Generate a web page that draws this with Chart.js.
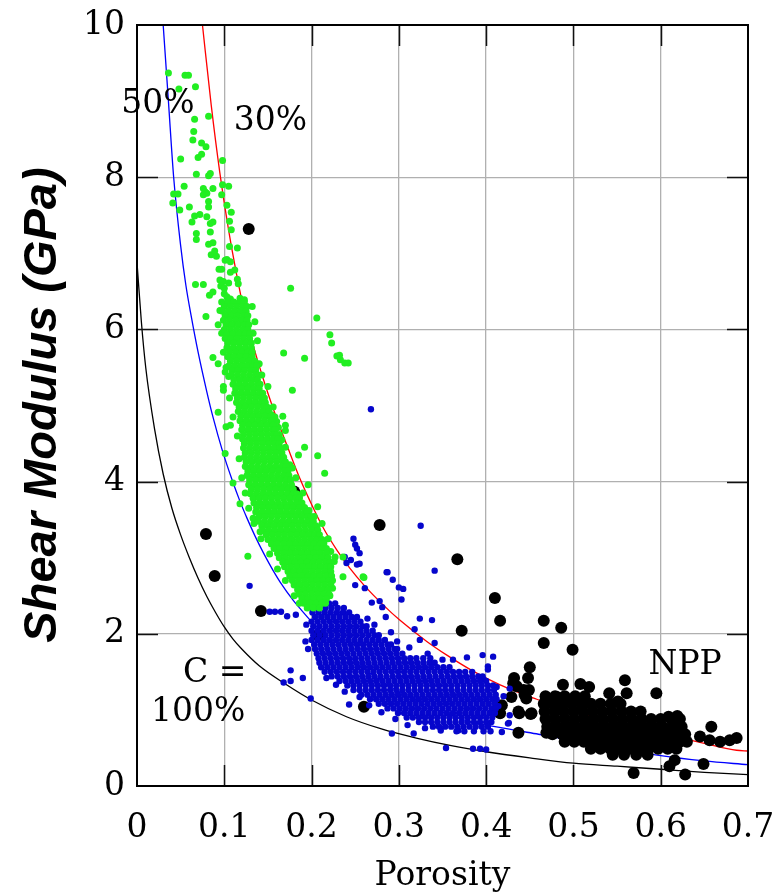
<!DOCTYPE html>
<html>
<head>
<meta charset="utf-8">
<title>Shear modulus vs porosity</title>
<script src="https://cdn.jsdelivr.net/npm/chart.js@4.4.0/dist/chart.umd.min.js"></script>
<style>
  html, body { margin: 0; padding: 0; background: #fff; }
  #modulus { display: block; }
</style>
</head>
<body>
<canvas id="modulus" width="782" height="895"></canvas>
<script>
// axis ticks
const xTicks = [0, 0.1, 0.2, 0.3, 0.4, 0.5, 0.6, 0.7];
const yTicks = [0, 2, 4, 6, 8, 10];

// model curves, cementation C = 100%, 50%, 30%
const curve100X = [0, 0.005, 0.01, 0.02, 0.03, 0.04, 0.05, 0.06, 0.07, 0.08, 0.09, 0.10, 0.11, 0.12, 0.14, 0.17, 0.20, 0.24, 0.28, 0.32, 0.36, 0.40, 0.45, 0.50, 0.55, 0.60, 0.65, 0.70];
const curve100Y = [6.88, 6.1, 5.5, 4.7, 4.1, 3.65, 3.3, 3.0, 2.73, 2.49, 2.28, 2.09, 1.93, 1.80, 1.58, 1.34, 1.13, 0.91, 0.75, 0.63, 0.53, 0.45, 0.37, 0.30, 0.26, 0.22, 0.18, 0.15];
const curve50X = [0.030, 0.036, 0.042, 0.050, 0.056, 0.062, 0.070, 0.080, 0.087, 0.098, 0.109, 0.118, 0.126, 0.135, 0.145, 0.156, 0.164, 0.179, 0.187, 0.200, 0.22, 0.25, 0.28, 0.31, 0.34, 0.38, 0.42, 0.46, 0.50, 0.55, 0.60, 0.65, 0.70];
const curve50Y = [10, 9.0, 8.0, 7.1, 6.58, 6.18, 5.70, 5.18, 4.85, 4.40, 4.02, 3.74, 3.52, 3.29, 3.06, 2.83, 2.68, 2.44, 2.33, 2.16, 1.93, 1.63, 1.38, 1.18, 1.02, 0.85, 0.76, 0.68, 0.60, 0.50, 0.40, 0.33, 0.28];
const curve30X = [0.075, 0.085, 0.095, 0.105, 0.115, 0.122, 0.128, 0.139, 0.150, 0.161, 0.171, 0.187, 0.198, 0.213, 0.229, 0.244, 0.260, 0.282, 0.301, 0.332, 0.355, 0.385, 0.416, 0.458, 0.488, 0.55, 0.60, 0.65, 0.687, 0.70];
const curve30Y = [10, 8.95, 8.05, 7.3, 6.67, 6.28, 6.0, 5.56, 5.16, 4.80, 4.50, 4.03, 3.75, 3.40, 3.10, 2.86, 2.64, 2.38, 2.18, 1.90, 1.72, 1.51, 1.33, 1.14, 1.02, 0.83, 0.69, 0.56, 0.47, 0.46];

// green samples: scattered points [porosity, modulus]
const greenScatter = [
  [.036,9.37],[.055,9.34],[.059,9.34],[.048,9.16],[.067,9.19],[.066,8.76],[.082,8.80],[.065,8.60],[.064,8.49],
  [.074,8.45],[.079,8.40],[.050,8.24],[.070,8.26],[.074,8.30],[.098,8.22],[.068,8.04],[.082,8.02],[.084,8.05],
  [.054,7.88],[.042,7.78],[.047,7.78],[.041,7.66],[.049,7.57],[.060,7.61],[.076,7.85],[.078,7.81],[.080,7.79],
  [.087,7.85],[.076,7.77],[.098,7.90],[.105,7.88],[.097,7.77],[.082,7.68],[.082,7.61],[.103,7.63],[.108,7.54],
  [.066,7.49],[.072,7.51],[.080,7.48],[.063,7.41],[.084,7.39],[.087,7.41],[.106,7.42],[.084,7.28],[.068,7.26],
  [.068,7.18],[.108,7.31],[.082,7.12],[.087,7.14],[.106,7.09],[.115,7.07],[.085,6.98],[.091,6.96],[.089,7.03],
  [.103,6.92],[.107,6.89],[.101,6.91],[.094,6.79],[.097,6.79],[.107,6.75],[.112,6.78],[.095,6.65],[.099,6.63],
  [.105,6.61],[.115,6.66],[.116,6.60],[.096,6.57],[.100,6.54],[.067,6.59],[.076,6.59],[.083,6.45],[.087,6.49],
  [.100,6.47],[.103,6.43],[.107,6.40],[.118,6.41],[.123,6.39],[.176,6.54],[.206,6.15],[.079,6.17],[.093,6.06],
  [.221,5.93],[.223,5.82],[.229,5.65],[.233,5.60],[.238,5.56],[.242,5.56],[.232,5.66],[.168,5.69],[.192,5.62],
  [.178,5.20],[.087,5.63],[.093,5.55],[.101,5.44],[.105,5.38],[.099,5.25],[.099,5.20],[.093,4.91],[.102,4.72],
  [.107,4.74],[.101,4.37],[.110,3.98],[.118,3.71],[.133,3.52],[.141,3.34],[.127,3.02],[.259,2.75],[.236,3.01],
  [.227,3.01],[.207,4.34],[.215,4.11],[.192,4.45],[.185,4.35],[.167,4.86],[.170,4.74],[.170,4.67],[.154,4.88],
  [.160,4.79],[.162,4.71],[.196,3.96],[.207,3.67],[.203,3.54],[.236,2.75],[.260,2.74],[.133,5.95],[.140,5.55],
  [.146,5.10],[.158,4.85],[.166,4.55],[.175,4.22],[.182,4.05],[.190,3.85],[.212,3.45],[.219,3.25],[.226,2.95],
  [.132,6.30],[.135,6.10],[.138,5.85],[.143,5.40],[.150,5.25],[.156,4.98],[.163,4.62],[.170,4.45],[.178,4.18],
  [.186,3.80],[.197,3.62],[.206,3.40],[.214,3.20],[.222,3.08],[.224,2.60],[.221,2.50],[.095,6.25],[.097,5.95],
  [.099,5.70],[.102,5.50],[.106,5.10],[.110,4.85],[.115,4.60],[.117,4.30],[.120,4.05],[.124,3.85],[.128,3.65],
  [.134,3.45],[.142,3.25],[.152,3.05],[.161,2.85],[.170,2.70],[.180,2.50],[.186,2.40]
];
// green samples: dense band, [modulus, porosity, porosity, ...]
const greenRows = [
  [6.36,.097,.104,.111,.118,.123],
  [6.30,.100,.107,.114,.121,.126],
  [6.24,.098,.105,.112,.119,.125],
  [6.18,.101,.108,.115,.122,.127],
  [6.12,.099,.106,.113,.120,.126],
  [6.06,.102,.109,.116,.123,.128],
  [6.00,.100,.107,.114,.121,.127],
  [5.94,.103,.110,.117,.124,.129],
  [5.88,.101,.108,.115,.122,.129],
  [5.82,.104,.111,.118,.125,.131],
  [5.76,.103,.110,.117,.124,.131],
  [5.70,.106,.113,.120,.127,.132],
  [5.64,.104,.111,.118,.125,.132],
  [5.58,.107,.114,.121,.128,.135],
  [5.52,.105,.112,.119,.126,.133,.137],
  [5.46,.109,.116,.123,.130,.136],
  [5.40,.108,.115,.122,.129,.136,.139],
  [5.34,.111,.118,.125,.132,.138],
  [5.28,.110,.117,.124,.131,.138,.141],
  [5.22,.113,.120,.127,.134,.140],
  [5.16,.112,.119,.126,.133,.140,.144],
  [5.10,.115,.122,.129,.136,.143],
  [5.04,.114,.121,.128,.135,.142,.147],
  [4.98,.117,.124,.131,.138,.145,.149],
  [4.92,.116,.123,.130,.137,.144,.151],
  [4.86,.119,.126,.133,.140,.147,.153],
  [4.80,.118,.125,.132,.139,.146,.153,.155],
  [4.74,.121,.128,.135,.142,.149,.156],
  [4.68,.120,.127,.134,.141,.148,.155,.158],
  [4.62,.122,.129,.136,.143,.150,.157,.160],
  [4.56,.121,.128,.135,.142,.149,.156,.161],
  [4.50,.123,.130,.137,.144,.151,.158,.163],
  [4.44,.122,.129,.136,.143,.150,.157,.164],
  [4.38,.124,.131,.138,.145,.152,.159,.166],
  [4.32,.123,.130,.137,.144,.151,.158,.165,.168],
  [4.26,.125,.132,.139,.146,.153,.160,.167,.170],
  [4.20,.124,.131,.138,.145,.152,.159,.166,.171],
  [4.14,.127,.134,.141,.148,.155,.162,.169,.173],
  [4.08,.126,.133,.140,.147,.154,.161,.168,.174],
  [4.02,.129,.136,.143,.150,.157,.164,.171,.176],
  [3.96,.128,.135,.142,.149,.156,.163,.170,.177],
  [3.90,.131,.138,.145,.152,.159,.166,.173,.179],
  [3.84,.130,.137,.144,.151,.158,.165,.172,.179,.183],
  [3.78,.133,.140,.147,.154,.161,.168,.175,.182,.186],
  [3.72,.134,.141,.148,.155,.162,.169,.176,.183,.189],
  [3.66,.137,.144,.151,.158,.165,.172,.179,.186,.192],
  [3.60,.136,.143,.150,.157,.164,.171,.178,.185,.192,.195],
  [3.54,.140,.147,.154,.161,.168,.175,.182,.189,.196,.199],
  [3.48,.139,.146,.153,.160,.167,.174,.181,.188,.195,.202],
  [3.42,.143,.150,.157,.164,.171,.178,.185,.192,.199,.205],
  [3.36,.144,.151,.158,.165,.172,.179,.186,.193,.200,.207],
  [3.30,.148,.155,.162,.169,.176,.183,.190,.197,.204,.209],
  [3.24,.150,.157,.164,.171,.178,.185,.192,.199,.206,.212],
  [3.18,.154,.161,.168,.175,.182,.189,.196,.203,.210,.214],
  [3.12,.157,.164,.171,.178,.185,.192,.199,.206,.213,.217],
  [3.06,.161,.168,.175,.182,.189,.196,.203,.210,.217],
  [3.00,.163,.170,.177,.184,.191,.198,.205,.212,.219],
  [2.94,.167,.174,.181,.188,.195,.202,.209,.216,.221],
  [2.88,.169,.176,.183,.190,.197,.204,.211,.218,.222],
  [2.82,.173,.180,.187,.194,.201,.208,.215,.222],
  [2.76,.175,.182,.189,.196,.203,.210,.217,.223],
  [2.70,.178,.185,.192,.199,.206,.213,.220,.224],
  [2.64,.180,.187,.194,.201,.208,.215,.222],
  [2.58,.184,.191,.198,.205,.212,.219],
  [2.52,.186,.193,.200,.207,.214,.220],
  [2.46,.189,.196,.203,.210,.217],
  [2.40,.191,.198,.205,.212,.216],
  [2.34,.195,.202,.209]
];

// blue samples
const blueScatter = [
  [.268,4.95],[.129,2.63],[.325,3.42],[.341,2.83],[.286,2.81],[.293,2.71],[.300,2.61],[.305,2.59],[.303,2.45],
  [.324,2.20],[.338,2.18],[.248,3.25],[.250,3.17],[.252,3.12],[.255,3.06],[.245,2.97],[.240,2.93],[.255,2.92],
  [.238,3.01],[.252,2.91],[.250,2.64],[.261,2.60],[.152,2.29],[.158,2.29],[.165,2.29],[.172,2.23],[.182,2.25],
  [.194,2.12],[.176,1.52],[.190,1.42],[.176,1.38],[.168,1.36],[.199,1.15],[.243,1.07],[.292,.69],[.317,.69],
  [.354,.50],[.385,.49],[.393,.49],[.400,.48],[.348,.73],[.368,.73],[.362,1.66],[.378,1.69],[.396,1.72],
  [.408,1.70],[.402,1.57],[.397,1.40],[.318,2.06],[.324,1.92],[.341,1.88],[.281,2.35],[.285,2.22],[.269,2.41],
  [.278,2.43],[.412,1.30],[.420,1.18],[.414,1.05],[.427,.93],[.425,.82],[.418,.71],[.402,1.53],[.427,1.28],
  [.426,.83],[.287,2.81],[.264,2.20],[.272,2.12],[.291,2.02],[.298,1.90],[.312,1.82],[.333,1.74],[.350,1.66],
  [.196,1.80],[.193,1.90],[.217,1.42],[.228,1.33],[.238,1.24],[.255,1.17],[.266,1.06],[.280,0.97],[.296,0.88],
  [.310,0.80],[.330,0.76]
];
const blueRows = [
  [2.40,.206,.213,.220,.227],
  [2.34,.202,.209,.216,.223,.230,.237],
  [2.28,.201,.208,.215,.222,.229,.236,.243],
  [2.22,.204,.211,.218,.225,.232,.239,.246,.252],
  [2.16,.200,.207,.214,.221,.228,.235,.242,.249,.256],
  [2.10,.202,.209,.216,.223,.230,.237,.244,.251,.258,.263],
  [2.04,.200,.207,.214,.221,.228,.235,.242,.249,.256,.263,.270],
  [1.98,.202,.209,.216,.223,.230,.237,.244,.251,.258,.265,.272,.277],
  [1.92,.200,.207,.214,.221,.228,.235,.242,.249,.256,.263,.270,.277,.284],
  [1.86,.203,.210,.217,.224,.231,.238,.245,.252,.259,.266,.273,.280,.287,.291],
  [1.80,.204,.211,.218,.225,.232,.239,.246,.253,.260,.267,.274,.281,.288,.295,.298],
  [1.74,.206,.213,.220,.227,.234,.241,.248,.255,.262,.269,.276,.283,.290,.297,.304],
  [1.68,.208,.215,.222,.229,.236,.243,.250,.257,.264,.271,.278,.285,.292,.299,.306,.313,.320,.328,.336],
  [1.62,.209,.216,.223,.230,.237,.244,.251,.258,.265,.272,.279,.286,.293,.300,.307,.314,.321,.328,.335,.341],
  [1.56,.211,.218,.225,.232,.239,.246,.253,.260,.267,.274,.281,.288,.295,.302,.309,.316,.323,.330,.337,.344,.351,.358],
  [1.50,.215,.222,.229,.236,.243,.250,.257,.264,.271,.278,.285,.292,.299,.306,.313,.320,.327,.334,.341,.348,.355,.362,.369,.376,.384],
  [1.44,.223,.230,.237,.244,.251,.258,.265,.272,.279,.286,.293,.300,.307,.314,.321,.328,.335,.342,.349,.356,.363,.370,.377,.384,.391,.396],
  [1.38,.232,.239,.246,.253,.260,.267,.274,.281,.288,.295,.302,.309,.316,.323,.330,.337,.344,.351,.358,.365,.372,.379,.386,.393,.400],
  [1.32,.241,.248,.255,.262,.269,.276,.283,.290,.297,.304,.311,.318,.325,.332,.339,.346,.353,.360,.367,.374,.381,.388,.395,.402,.408],
  [1.26,.248,.255,.262,.269,.276,.283,.290,.297,.304,.311,.318,.325,.332,.339,.346,.353,.360,.367,.374,.381,.388,.395,.402,.409],
  [1.20,.257,.264,.271,.278,.285,.292,.299,.306,.313,.320,.327,.334,.341,.348,.355,.362,.369,.376,.383,.390,.397,.404,.411],
  [1.14,.267,.274,.281,.288,.295,.302,.309,.316,.323,.330,.337,.344,.351,.358,.365,.372,.379,.386,.393,.400,.407,.412],
  [1.08,.277,.284,.291,.298,.305,.312,.319,.326,.333,.340,.347,.354,.361,.368,.375,.382,.389,.396,.403,.410],
  [1.02,.287,.294,.301,.308,.315,.322,.329,.336,.343,.350,.357,.364,.371,.378,.385,.392,.399,.406,.411],
  [0.96,.299,.306,.313,.320,.327,.334,.341,.348,.355,.362,.369,.376,.383,.390,.397,.404,.410],
  [0.90,.309,.316,.323,.330,.337,.344,.351,.358,.365,.372,.379,.386,.393,.400,.407],
  [0.84,.323,.330,.337,.344,.351,.358,.365,.372,.379,.386,.393,.400,.406],
  [0.78,.339,.346,.353,.360,.367,.374,.381,.388,.395,.402],
  [0.72,.366,.375,.386,.397,.405]
];

// black samples (NPP)
const blackScatter = [
  [.128,7.32],[.079,3.31],[.089,2.76],[.180,3.87],[.278,3.43],[.142,2.30],[.207,1.98],[.260,1.04],[.367,2.98],
  [.372,2.04],[.410,2.47],[.416,2.17],[.466,2.17],[.486,2.08],[.466,1.88],[.499,1.79],[.450,1.56],[.432,1.42],
  [.448,1.42],[.435,1.31],[.449,1.26],[.444,1.20],[.429,1.17],[.418,1.06],[.416,.955],[.438,.955],[.451,.946],
  [.437,.70],[.469,.70],[.488,1.33],[.508,1.34],[.518,1.30],[.559,1.39],[.541,1.22],[.551,1.11],[.561,1.22],
  [.595,1.22],[.658,.78],[.609,.91],[.619,.92],[.471,1.13],[.481,1.17],[.485,1.04],[.569,.17],[.610,.26],
  [.616,.34],[.628,.15],[.649,.29],[.687,.63],[.679,.60],[.668,.58],[.656,.60],[.645,.65],[.630,.58],
  [.431,1.35],[.443,1.26],[.446,1.15],[.437,.98],[.452,.955]
];
const blackRows = [
  [1.18,.468,.479,.490,.502,.513],
  [1.08,.466,.476,.487,.498,.509,.520,.531,.543,.554],
  [0.98,.467,.478,.489,.500,.511,.522,.533,.544,.555,.566,.577],
  [0.88,.468,.479,.490,.501,.512,.523,.534,.545,.556,.567,.578,.589,.600,.612,.622],
  [0.78,.470,.481,.492,.503,.514,.525,.536,.547,.558,.569,.580,.591,.602,.613,.624],
  [0.68,.476,.487,.498,.509,.520,.531,.542,.553,.564,.575,.586,.597,.608,.619,.628],
  [0.58,.490,.501,.512,.523,.534,.545,.556,.567,.578,.589,.600,.611,.622],
  [0.49,.520,.531,.542,.553,.564,.575,.586,.597,.608,.618],
  [0.41,.545,.558,.572,.585]
];

// text placed inside the plot
const noteText = ['50%', '30%', 'C =', '100%', 'NPP'];
const noteX = [0.024, 0.153, 0.089, 0.070, 0.628];
const noteY = [8.95, 8.73, 1.48, 0.97, 1.58];

function toPoints(scatter, rows) {
  const pts = scatter.map(([x, y]) => ({ x, y }));
  rows.forEach(([g, ...xs]) => xs.forEach(x => pts.push({ x, y: g })));
  return pts;
}

function toCurve(xs, ys) {
  return xs.map((x, i) => ({ x, y: ys[i] }));
}

const serif = '"DejaVu Serif", "Liberation Serif", serif';

// border, inward tick marks, notes and axis titles
const frame = {
  id: 'frame',
  afterDraw(chart) {
    const { ctx, chartArea: a, scales } = chart;
    const sx = scales.x, sy = scales.y;
    ctx.save();
    ctx.strokeStyle = '#111';
    ctx.lineWidth = 1.5;
    ctx.beginPath();
    xTicks.slice(1, -1).forEach(v => {
      const px = Math.round(sx.getPixelForValue(v)) + 0.5;
      ctx.moveTo(px, a.top); ctx.lineTo(px, a.top + 21);
      ctx.moveTo(px, a.bottom); ctx.lineTo(px, a.bottom - 21);
    });
    yTicks.slice(1, -1).forEach(v => {
      const py = Math.round(sy.getPixelForValue(v)) + 0.5;
      ctx.moveTo(a.left, py); ctx.lineTo(a.left + 21, py);
      ctx.moveTo(a.right, py); ctx.lineTo(a.right - 21, py);
    });
    ctx.stroke();
    ctx.lineWidth = 2;
    ctx.strokeStyle = '#000';
    ctx.strokeRect(a.left, a.top, a.right - a.left, a.bottom - a.top);

    ctx.fillStyle = '#000';
    ctx.font = '33px ' + serif;
    ctx.textAlign = 'center';
    ctx.textBaseline = 'middle';
    noteText.forEach((t, i) => {
      ctx.fillText(t, sx.getPixelForValue(noteX[i]), sy.getPixelForValue(noteY[i]));
    });

    ctx.textBaseline = 'alphabetic';
    ctx.fillText('Porosity', (a.left + a.right) / 2, 885);

    ctx.translate(56, 405);
    ctx.rotate(-Math.PI / 2);
    ctx.font = 'italic bold 47px "Liberation Sans", Arial, sans-serif';
    ctx.fillText('Shear Modulus (GPa)', 0, 0);
    ctx.restore();
  }
};

const ctx = document.getElementById('modulus').getContext('2d');

new Chart(ctx, {
  type: 'scatter',
  data: {
    datasets: [
      {
        label: 'C = 30%',
        data: toPoints(greenScatter, greenRows),
        backgroundColor: '#22ee22',
        borderWidth: 0,
        pointRadius: 3.5,
        order: 1
      },
      {
        label: 'C = 50% samples',
        data: toPoints(blueScatter, blueRows),
        backgroundColor: '#0606cc',
        borderWidth: 0,
        pointRadius: 3.2,
        order: 2
      },
      {
        label: 'NPP',
        data: toPoints(blackScatter, blackRows),
        backgroundColor: '#000',
        borderWidth: 0,
        pointRadius: 6,
        order: 3
      },
      {
        label: '100%',
        data: toCurve(curve100X, curve100Y),
        showLine: true,
        borderColor: '#000',
        borderWidth: 1.3,
        pointRadius: 0,
        cubicInterpolationMode: 'monotone',
        order: 4
      },
      {
        label: '50%',
        data: toCurve(curve50X, curve50Y),
        showLine: true,
        borderColor: '#0000ff',
        borderWidth: 1.3,
        pointRadius: 0,
        cubicInterpolationMode: 'monotone',
        order: 4
      },
      {
        label: '30%',
        data: toCurve(curve30X, curve30Y),
        showLine: true,
        borderColor: '#ff0000',
        borderWidth: 1.3,
        pointRadius: 0,
        cubicInterpolationMode: 'monotone',
        order: 4
      }
    ]
  },
  options: {
    responsive: false,
    animation: false,
    events: [],
    layout: { padding: { top: 25, right: 34, left: 0, bottom: 0 } },
    plugins: {
      legend: { display: false },
      tooltip: { enabled: false }
    },
    scales: {
      x: {
        type: 'linear',
        min: 0,
        max: 0.7,
        afterFit: s => {
          s.height = 109;
          s.paddingLeft = 0; s.paddingRight = 0;
        },
        border: { display: false },
        grid: { color: '#b0b0b0', lineWidth: 1.3, drawTicks: false },
        ticks: {
          stepSize: 0.1,
          padding: 23,
          color: '#000',
          font: { family: serif, size: 33 },
          callback: v => String(Math.round(v * 10) / 10)
        }
      },
      y: {
        type: 'linear',
        min: 0,
        max: 10,
        afterFit: s => {
          s.width = 137;
          s.paddingTop = 0; s.paddingBottom = 0;
        },
        border: { display: false },
        grid: { color: '#b0b0b0', lineWidth: 1.3, drawTicks: false },
        ticks: {
          stepSize: 2,
          padding: 12,
          color: '#000',
          font: { family: serif, size: 33 }
        }
      }
    }
  },
  plugins: [frame]
});
</script>
</body>
</html>
